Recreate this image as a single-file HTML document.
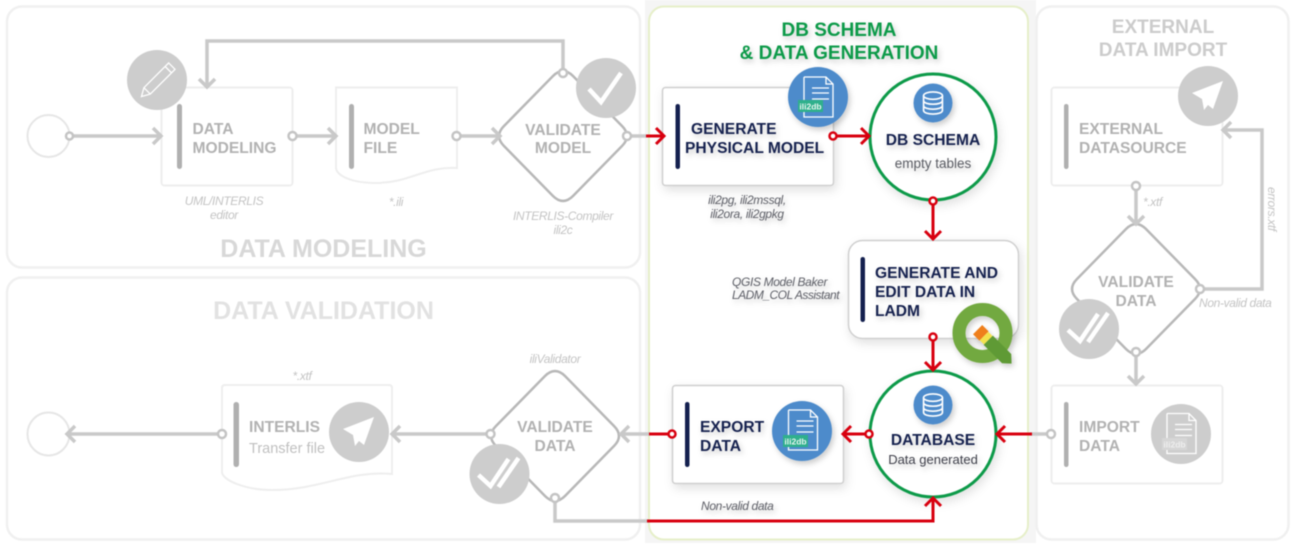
<!DOCTYPE html>
<html lang="en">
<head>
<meta charset="utf-8">
<title>Data workflow</title>
<style>
html,body{margin:0;padding:0;background:#fff;width:1298px;height:550px;overflow:hidden}
svg{display:block;filter:blur(.4px)}
text{font-family:"Liberation Sans",sans-serif}
.b{font-weight:700;font-size:15.6px}
.g{fill:#b2b2b2}
.n{fill:#18224f}
.i{font-style:italic;font-size:12px;letter-spacing:-.35px}
.li{fill:#c4c4c4}
.di{fill:#5e6068}
.m{text-anchor:middle}
.panel{fill:#fff;stroke:#f0f0f0;stroke-width:2.5}
.box{fill:#fff;stroke:#eeeeee;stroke-width:2}
.gl{fill:none;stroke:#c9c9c9;stroke-width:3.5}
.rl{fill:none;stroke:#d8000f;stroke-width:3}
.gd{fill:#fff;stroke:#c4c4c4;stroke-width:2.5}
.rd{fill:#fff;stroke:#d8000f;stroke-width:2.5}
.dm{fill:#fff;stroke:#b8b8b8;stroke-width:2.5}
</style>
</head>
<body>
<svg width="1298" height="550" viewBox="0 0 1298 550" xmlns="http://www.w3.org/2000/svg">
<defs>
<filter id="sh" x="-20%" y="-20%" width="150%" height="160%"><feDropShadow dx="2" dy="3" stdDeviation="3" flood-color="#000" flood-opacity=".2"/></filter>
<filter id="shb" x="-20%" y="-20%" width="150%" height="150%"><feDropShadow dx="2" dy="4" stdDeviation="5" flood-color="#000" flood-opacity=".12"/></filter>
<path id="dia" d="M-10,-60 Q0,-70 10,-60 L59,-10 Q69,0 59,10 L10,60 Q0,70 -10,60 L-59,10 Q-69,0 -59,-10 Z"/>
<g id="doc" fill="none" stroke="#fff" stroke-width="1.300">
<path d="M-14,-20 H8 L15,-13 V20 H-14 V-20"/>
<path d="M8,-20 V-13 H15"/>
<path d="M-6,-9 H11 M-6,-4 H11 M-6,2 H11"/>
</g>
<g id="dbi" fill="none" stroke="#fff" stroke-width="2">
<ellipse cx="0" cy="-9" rx="11.500" ry="4.500"/>
<path d="M-11.500,-9 V9 C-11.500,15 11.500,15 11.500,9 V-9 M-11.500,-3 C-11.500,3 11.500,3 11.500,-3 M-11.500,3 C-11.500,9 11.500,9 11.500,3"/>
</g>
<path id="send" fill="#fff" d="M15,-15 L-16,-3 L-6,3 L-4,14 L0,9 L5,13 Z"/>
<g id="dchk" fill="none" stroke="#fff" stroke-width="4.500">
<path d="M-21,1 L-9,12 L9,-15"/>
<path d="M-1,13 L19,-16"/>
</g>
</defs>

<rect width="1298" height="550" fill="#fff"/>
<rect x="645" y="0" width="391" height="543" fill="#f5f5f5"/>

<!-- panels -->
<rect class="panel" x="7" y="6.500" width="633" height="261" rx="15"/>
<rect class="panel" x="7" y="277.500" width="633" height="262" rx="15"/>
<rect x="649" y="6.500" width="379" height="533" rx="15" fill="#fff" stroke="#e6efc9" stroke-width="2"/>
<rect class="panel" x="1036.500" y="6.500" width="252" height="533" rx="15"/>

<!-- DATA MODELING -->
<text x="323.500" y="257" class="m" font-size="25" font-weight="700" fill="#d8d8d8">DATA MODELING</text>
<ellipse cx="48.500" cy="136" rx="21" ry="21" fill="#fff" stroke="#e6e6e6" stroke-width="2"/>
<rect class="box" x="161.500" y="87.500" width="131" height="98" rx="3"/>
<path class="box" d="M336,87.500 H457 V168 C425,166 410,183 376,183 C352,183 337,176 336,168 Z"/>
<rect x="177" y="104" width="5" height="65" rx="2.500" fill="#b0b0b0"/>
<rect x="349" y="104" width="5" height="65" rx="2.500" fill="#b0b0b0"/>
<text x="192.500" y="134" class="b g">DATA</text>
<text x="192.500" y="153" class="b g">MODELING</text>
<text x="363.500" y="134" class="b g">MODEL</text>
<text x="363.500" y="153" class="b g">FILE</text>
<text x="224" y="205" class="i li m">UML/INTERLIS</text>
<text x="224" y="219" class="i li m">editor</text>
<text x="396" y="206" class="i li m">*.ili</text>
<text x="563" y="220" class="i li m">INTERLIS-Compiler</text>
<text x="563" y="234" class="i li m">ili2c</text>
<use href="#dia" class="dm" transform="translate(563,136)"/>
<text x="563" y="135" class="b g m">VALIDATE</text>
<text x="563" y="153" class="b g m">MODEL</text>
<path class="gl" d="M70,136 H160 M153,128 L161,136 L153,144"/>
<path class="gl" d="M293,136 H335 M328,128 L336,136 L328,144"/>
<path class="gl" d="M457,136 H499 M492,128 L500,136 L492,144"/>
<path class="gl" d="M563,73 V41 H207 V87 M199,79 L207,87 L215,79"/>
<path class="gl" d="M627,136 H646"/>
<circle class="gd" cx="69.500" cy="136" r="3.500"/>
<circle class="gd" cx="292.500" cy="136" r="4"/>
<circle class="gd" cx="456.500" cy="136" r="4"/>
<circle class="gd" cx="563" cy="73" r="4"/>
<circle class="gd" cx="627" cy="136" r="4"/>
<circle cx="157" cy="80" r="30" fill="#cdcdcd"/>
<g transform="translate(157,81) rotate(45)" fill="none" stroke="#fff" stroke-width="1.300">
<path d="M-4.500,-21 H4.500 V14 L0,22 L-4.500,14 Z M-4.500,-16 H4.500 M-4.500,14 H4.500"/>
</g>
<circle cx="606" cy="88" r="30" fill="#cdcdcd"/>
<path d="M589,89 L601,102 L621,73" fill="none" stroke="#fff" stroke-width="4.500"/>

<!-- DATA VALIDATION -->
<text x="323.500" y="319" class="m" font-size="25" font-weight="700" fill="#e2e2e2">DATA VALIDATION</text>
<ellipse cx="48.500" cy="434" rx="21" ry="21.500" fill="#fff" stroke="#e6e6e6" stroke-width="2"/>
<path class="box" d="M222,388 Q222,385 225,385 H389 Q392,385 392,388 V474 C350,470 320,490 272,490 C245,490 222,480 222,472 Z"/>
<rect x="233.500" y="402" width="5.500" height="65" rx="2.700" fill="#b0b0b0"/>
<text x="249" y="432" class="b g">INTERLIS</text>
<text x="249" y="453" font-size="14.500" fill="#c0c0c0">Transfer file</text>
<text x="302" y="380" class="i li m">*.xtf</text>
<text x="555" y="363" class="i li m">iliValidator</text>
<use href="#dia" class="dm" transform="translate(555,436)"/>
<text x="555" y="432" class="b g m">VALIDATE</text>
<text x="555" y="451" class="b g m">DATA</text>
<path class="gl" d="M222,434 H67 M75,426 L67,434 L75,442"/>
<path class="gl" d="M490,434 H392 M400,426 L392,434 L400,442"/>
<path class="gl" d="M650,434 H621 M629,426 L621,434 L629,442"/>
<path class="gl" d="M555,498 V521 H649" stroke-width="3"/>
<circle class="gd" cx="222" cy="434" r="4"/>
<circle class="gd" cx="490.500" cy="434" r="4"/>
<circle class="gd" cx="555" cy="498" r="4"/>
<circle cx="359" cy="432" r="30" fill="#cdcdcd"/>
<use href="#send" transform="translate(359,432)"/>
<circle cx="499.500" cy="474" r="30" fill="#cdcdcd"/>
<use href="#dchk" transform="translate(499.500,474)"/>

<!-- EXTERNAL -->
<text x="1163" y="33" class="m" font-size="19" font-weight="700" fill="#cccccc">EXTERNAL</text>
<text x="1163" y="56" class="m" font-size="19" font-weight="700" fill="#cccccc">DATA IMPORT</text>
<rect class="box" x="1051.500" y="87.500" width="171" height="98" rx="3"/>
<rect class="box" x="1051.500" y="385.500" width="171" height="98" rx="3"/>
<rect x="1064" y="104" width="4.500" height="65" rx="2.200" fill="#b0b0b0"/>
<rect x="1064" y="402" width="4.500" height="65" rx="2.200" fill="#b0b0b0"/>
<text x="1079" y="134" class="b g">EXTERNAL</text>
<text x="1079" y="153" class="b g">DATASOURCE</text>
<text x="1079" y="432" class="b g">IMPORT</text>
<text x="1079" y="451" class="b g">DATA</text>
<use href="#dia" class="dm" transform="translate(1136,289)"/>
<text x="1136" y="287" class="b g m">VALIDATE</text>
<text x="1136" y="306" class="b g m">DATA</text>
<text x="1143" y="206" class="i li">*.xtf</text>
<text x="1199" y="307" class="i li">Non-valid data</text>
<text transform="translate(1268,187) rotate(90)" class="i li">errors.xtf</text>
<path class="gl" d="M1136,186 V224 M1128,216 L1136,224 L1144,216"/>
<path class="gl" d="M1136,353 V384 M1128,376 L1136,384 L1144,376"/>
<path class="gl" d="M1200,289 H1262 V130 H1223 M1231,122 L1223,130 L1231,138"/>
<path class="gl" d="M1030,434 H1051" stroke-width="3"/>
<circle class="gd" cx="1136" cy="186" r="4"/>
<circle class="gd" cx="1200" cy="289" r="4"/>
<circle class="gd" cx="1136" cy="352" r="4"/>
<circle class="gd" cx="1051" cy="434" r="4"/>
<circle cx="1208" cy="96" r="30" fill="#cdcdcd"/>
<use href="#send" transform="translate(1208,96)"/>
<circle cx="1089" cy="329" r="30" fill="#cdcdcd"/>
<use href="#dchk" transform="translate(1089,329)"/>
<circle cx="1181" cy="434" r="30" fill="#cdcdcd"/>
<use href="#doc" transform="translate(1181,433.500)"/>
<rect x="1162" y="438" width="25" height="12" fill="#d6d6d6"/>
<text x="1174.500" y="447.500" class="m" font-size="8.500" font-weight="700" fill="#eeeeee">ili2db</text>

<!-- DB SCHEMA & DATA GENERATION -->
<g filter="url(#shb)">
<rect x="662.500" y="87.500" width="171" height="98" rx="3" fill="#fff" stroke="#cfcfcf" stroke-width="1.500"/>
<rect x="848.500" y="240.500" width="170" height="98" rx="14" fill="#fff" stroke="#cfcfcf" stroke-width="1.500"/>
<rect x="672.500" y="385.500" width="171" height="98" rx="3" fill="#fff" stroke="#cfcfcf" stroke-width="1.500"/>
<circle cx="933" cy="137" r="63" fill="#fff" stroke="#0a9a48" stroke-width="3"/>
<circle cx="933" cy="434" r="63" fill="#fff" stroke="#0a9a48" stroke-width="3"/>
</g>
<g filter="url(#sh)">
<text x="839" y="36" class="m" font-size="19" font-weight="700" fill="#0a9a48">DB SCHEMA</text>
<text x="839" y="59" class="m" font-size="19" font-weight="700" fill="#0a9a48">&amp; DATA GENERATION</text>
<text x="691" y="134" class="b n">GENERATE</text>
<text x="685" y="153" class="b n">PHYSICAL MODEL</text>
<text x="747" y="204" class="i di m">ili2pg, ili2mssql,</text>
<text x="747" y="218" class="i di m">ili2ora, ili2gpkg</text>
<text x="933" y="145" class="b n m">DB SCHEMA</text>
<text x="933" y="168" class="m" font-size="13.500" fill="#5a5c64">empty tables</text>
<text x="875" y="278" class="b n">GENERATE AND</text>
<text x="875" y="297" class="b n">EDIT DATA IN</text>
<text x="875" y="316" class="b n">LADM</text>
<text x="732" y="286" class="i di">QGIS Model Baker</text>
<text x="732" y="299" class="i di" style="letter-spacing:-.5px">LADM_COL Assistant</text>
<text x="700" y="432" class="b n">EXPORT</text>
<text x="700" y="451" class="b n">DATA</text>
<text x="933" y="445" class="b n m">DATABASE</text>
<text x="933" y="464" class="m" font-size="13" fill="#3f414b">Data generated</text>
<text x="701" y="510" class="i di">Non-valid data</text>
</g>
<rect x="675.500" y="104" width="4.500" height="65" rx="2.200" fill="#14204f"/>
<rect x="860.500" y="257" width="4.500" height="65" rx="2.200" fill="#14204f"/>
<rect x="685" y="402" width="4.500" height="65" rx="2.200" fill="#14204f"/>

<g filter="url(#sh)">
<circle cx="818" cy="97" r="30" fill="#4d8bcb"/>
<circle cx="933" cy="103" r="19.500" fill="#4d8bcb"/>
<circle cx="933" cy="405" r="19.500" fill="#4d8bcb"/>
<circle cx="802" cy="431" r="30" fill="#4d8bcb"/>
</g>
<use href="#doc" transform="translate(818,97)"/>
<use href="#doc" transform="translate(802.500,430)"/>
<use href="#dbi" transform="translate(933,103) scale(.82)"/>
<use href="#dbi" transform="translate(933,405) scale(.82)"/>
<rect x="798" y="100" width="25" height="12" fill="#2fb08c"/>
<text x="810.500" y="109.500" class="m" font-size="8.500" font-weight="700" fill="#e8f6f0">ili2db</text>
<rect x="783" y="435" width="25" height="12" fill="#2fb08c"/>
<text x="795.500" y="444.500" class="m" font-size="8.500" font-weight="700" fill="#e8f6f0">ili2db</text>

<!-- QGIS -->
<g filter="url(#sh)">
<circle cx="982.500" cy="333" r="23.500" fill="none" stroke="#72a93f" stroke-width="13"/>
<g transform="translate(984,336) rotate(45)">
<rect x="-9" y="-6.500" width="9" height="13" fill="#ef7f1a"/>
<rect x="0" y="-6" width="6" height="12" fill="#f3e24e"/>
<path d="M6,-6.500 H32 L39,0 L32,6.500 H6 Z" fill="#5f9a35"/>
</g>
</g>

<!-- red connectors -->
<path class="rl" d="M646,136 H664 M656,128 L664,136 L656,144"/>
<path class="rl" d="M833,136 H869 M861,128 L869,136 L861,144"/>
<path class="rl" d="M933,201 V239 M925,231 L933,239 L941,231"/>
<path class="rl" d="M933,337 V370 M925,362 L933,370 L941,362"/>
<path class="rl" d="M649,434 H672"/>
<path class="rl" d="M869,434 H843 M851,426 L843,434 L851,442"/>
<path class="rl" d="M1032,434 H997 M1005,426 L997,434 L1005,442"/>
<path class="rl" d="M647,521 H933 V498 M925,506 L933,498 L941,506"/>
<circle class="rd" cx="833" cy="136" r="3.500"/>
<circle class="rd" cx="933" cy="201" r="3.500"/>
<circle class="rd" cx="933" cy="337" r="3.500"/>
<circle class="rd" cx="672" cy="434" r="3.500"/>
<circle class="rd" cx="869" cy="434" r="3.500"/>
</svg>
</body>
</html>
